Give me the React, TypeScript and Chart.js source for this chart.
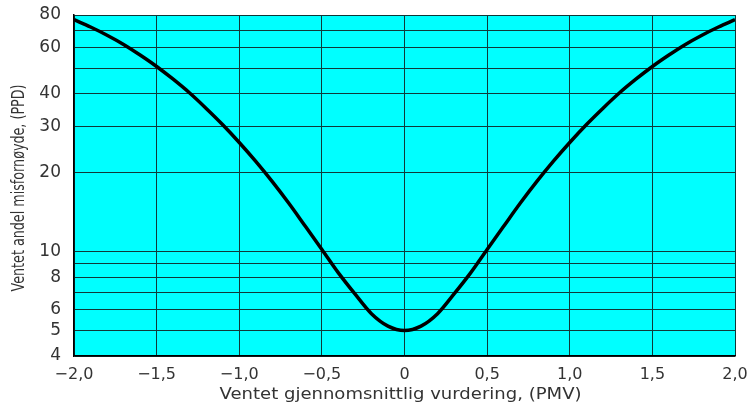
import React, { useEffect, useRef } from "react";
import { Chart, registerables } from "chart.js";

Chart.register(...registerables);

const pmvValues = [-2.0, -1.9, -1.8, -1.7, -1.6, -1.5, -1.4, -1.3, -1.2, -1.1, -1.0, -0.9, -0.8, -0.7, -0.6, -0.5, -0.4, -0.3, -0.2, -0.1, 0, 0.1, 0.2, 0.3, 0.4, 0.5, 0.6, 0.7, 0.8, 0.9, 1.0, 1.1, 1.2, 1.3, 1.4, 1.5, 1.6, 1.7, 1.8, 1.9, 2.0];
const ppdValues = [76.8, 72.0, 67.0, 61.8, 56.3, 50.9, 45.5, 40.3, 35.2, 30.5, 26.1, 22.1, 18.5, 15.3, 12.5, 10.2, 8.3, 6.9, 5.8, 5.2, 5.0, 5.2, 5.8, 6.9, 8.3, 10.2, 12.5, 15.3, 18.5, 22.1, 26.1, 30.5, 35.2, 40.3, 45.5, 50.9, 56.3, 61.8, 67.0, 72.0, 76.8];
const yGridValues = [4, 5, 6, 7, 8, 9, 10, 20, 30, 40, 50, 60, 70, 80];
const yLabeledValues = [4, 5, 6, 8, 10, 20, 30, 40, 60, 80];
const xTickValues = [-2, -1.5, -1, -0.5, 0, 0.5, 1, 1.5, 2];
const xTitle = "Ventet gjennomsnittlig vurdering, (PMV)";
const yTitle = "Ventet andel misfornøyde, (PPD)";

const FONT = "'DejaVu Sans', sans-serif";
const TEXT_COLOR = "#333333";

const bgPlugin = {
  id: "plotBg",
  beforeDraw(chart: any) {
    const { ctx, chartArea } = chart;
    if (!chartArea) return;
    ctx.save();
    ctx.fillStyle = "#00FFFF";
    ctx.fillRect(chartArea.left, chartArea.top, chartArea.right - chartArea.left, chartArea.bottom - chartArea.top);
    ctx.restore();
  },
};

function drawFitted(ctx: any, text: string, font: string, targetWidth: number) {
  ctx.font = font;
  const w = ctx.measureText(text).width;
  const sx = targetWidth / w;
  ctx.scale(sx, 1);
  ctx.fillText(text, 0, 0);
}

const titlesPlugin = {
  id: "axisTitles",
  afterDraw(chart: any) {
    const { ctx, chartArea } = chart;
    if (!chartArea) return;
    const cx = (chartArea.left + chartArea.right) / 2;
    ctx.save();
    ctx.fillStyle = TEXT_COLOR;
    ctx.textAlign = "center";
    ctx.textBaseline = "middle";
    ctx.translate(cx - 4, chartArea.bottom + 39);
    drawFitted(ctx, xTitle, "16px " + FONT, 362);
    ctx.restore();

    ctx.save();
    ctx.fillStyle = TEXT_COLOR;
    ctx.textAlign = "center";
    ctx.textBaseline = "middle";
    ctx.translate(19, 188);
    ctx.rotate(-Math.PI / 2);
    drawFitted(ctx, yTitle, "18px " + FONT, 207);
    ctx.restore();
  },
};

export default function App() {
  const ref = useRef<HTMLCanvasElement | null>(null);
  useEffect(() => {
    document.body.style.margin = "0";
    document.body.style.background = "#ffffff";
    const canvas = ref.current;
    if (!canvas) return;
    const chart = new Chart(canvas, {
      type: "line",
      data: {
        datasets: [
          {
            data: pmvValues.map((x, i) => ({ x, y: ppdValues[i] })),
            borderColor: "#000000",
            borderWidth: 3.5,
            pointRadius: 0,
            cubicInterpolationMode: "monotone",
            fill: false,
          },
        ],
      },
      options: {
        animation: false,
        responsive: false,
        maintainAspectRatio: false,
        layout: { padding: { top: 15, right: 12, left: 0, bottom: 0 } },
        plugins: {
          legend: { display: false },
          tooltip: { enabled: false },
        },
        scales: {
          x: {
            type: "linear",
            min: -2,
            max: 2,
            afterBuildTicks(scale: any) {
              scale.ticks = xTickValues.map((v) => ({ value: v }));
            },
            afterFit(scale: any) {
              scale.height = 50;
              scale.paddingLeft = 0;
              scale.paddingRight = 0;
              scale.paddingTop = 0;
              scale.paddingBottom = 0;
            },
            ticks: {
              autoSkip: false,
              maxRotation: 0,
              padding: 9,
              color: TEXT_COLOR,
              font: { family: FONT, size: 16 },
              callback: (v: any) => {
                const n = Number(v);
                if (n === 0) return "0";
                const s = Math.abs(n).toFixed(1).replace(".", ",");
                return n < 0 ? "\u2212" + s : s;
              },
            },
            grid: { color: "#103838", lineWidth: 1, drawTicks: false },
            border: { color: "#000000", width: 1.5 },
          },
          y: {
            type: "logarithmic",
            min: 4,
            max: 80,
            afterBuildTicks(scale: any) {
              scale.ticks = yGridValues.map((v) => ({ value: v }));
            },
            afterFit(scale: any) {
              scale.width = 74;
              scale.paddingLeft = 0;
              scale.paddingRight = 0;
              scale.paddingTop = 0;
              scale.paddingBottom = 0;
            },
            ticks: {
              autoSkip: false,
              padding: 13,
              color: TEXT_COLOR,
              font: { family: FONT, size: 17 },
              callback: (v: any) => (yLabeledValues.includes(Number(v)) ? String(v) : ""),
            },
            grid: { color: "#103838", lineWidth: 1, drawTicks: false },
            border: { color: "#000000", width: 1.5 },
          },
        },
      },
      plugins: [bgPlugin, titlesPlugin],
    } as any);
    return () => chart.destroy();
  }, []);
  return <canvas ref={ref} width={747} height={406} style={{ display: "block" }} />;
}
